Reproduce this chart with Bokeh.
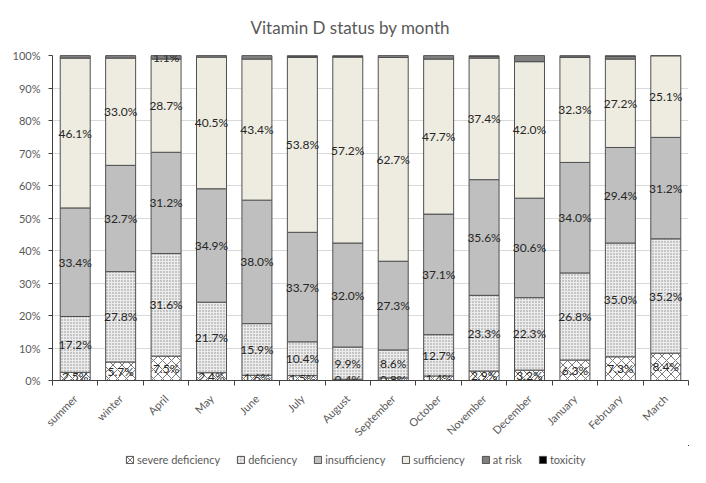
from bokeh.plotting import figure
from bokeh.layouts import column
from bokeh.models import (ColumnDataSource, FixedTicker, NumeralTickFormatter,
                          Legend, LegendItem, Range1d)
from bokeh.embed import file_html
from bokeh.resources import INLINE
from bokeh.core.properties import value
from math import pi

# ---- data (percent of samples) ----
months = ["summer", "winter", "April", "May", "June", "July", "August",
          "September", "October", "November", "December", "January",
          "February", "March"]
severe_deficiency = [2.5, 5.7, 7.5, 2.4, 1.6, 1.5, 0.4, 0.8, 1.4, 2.9, 3.2, 6.3, 7.3, 8.4]
deficiency = [17.2, 27.8, 31.6, 21.7, 15.9, 10.4, 9.9, 8.6, 12.7, 23.3, 22.3, 26.8, 35.0, 35.2]
insufficiency = [33.4, 32.7, 31.2, 34.9, 38.0, 33.7, 32.0, 27.3, 37.1, 35.6, 30.6, 34.0, 29.4, 31.2]
sufficiency = [46.1, 33.0, 28.7, 40.5, 43.4, 53.8, 57.2, 62.7, 47.7, 37.4, 42.0, 32.3, 27.2, 25.1]
at_risk = [0.8, 0.8, 1.1, 0.5, 1.1, 0.4, 0.3, 0.6, 1.1, 0.6, 1.9, 0.5, 0.9, 0.1]
toxicity = [0.0, 0.0, 0.0, 0.0, 0.0, 0.2, 0.2, 0.0, 0.0, 0.2, 0.0, 0.1, 0.2, 0.0]
at_risk_labelled = [False, False, True, False, False, False, False,
                    False, False, False, False, False, False, False]
y_ticks = [0, 10, 20, 30, 40, 50, 60, 70, 80, 90, 100]

series = [
    ("severe deficiency", severe_deficiency),
    ("deficiency", deficiency),
    ("insufficiency", insufficiency),
    ("sufficiency", sufficiency),
    ("at risk", at_risk),
    ("toxicity", toxicity),
]

styles = [
    dict(fill_color="white", hatch_pattern="diagonal_cross", hatch_color="#404040",
         hatch_scale=9, hatch_weight=0.7),
    dict(fill_color="#ececec", hatch_pattern="dot", hatch_color="#8a8a8a",
         hatch_scale=3, hatch_weight=0.5),
    dict(fill_color="#bfbfbf"),
    dict(fill_color="#eeece1"),
    dict(fill_color="#7f7f7f"),
    dict(fill_color="#000000"),
]

n = len(months)
xs = list(range(1, n + 1))
totals = [sum(s[1][i] for s in series) for i in range(n)]

data = {"x": xs}
cum = [0.0] * n
for k, (name, vals) in enumerate(series):
    bottom = [cum[i] / totals[i] for i in range(n)]
    top = [(cum[i] + vals[i]) / totals[i] for i in range(n)]
    data[f"b{k}"] = bottom
    data[f"t{k}"] = top
    data[f"m{k}"] = [(bottom[i] + top[i]) / 2 for i in range(n)]
    data[f"l{k}"] = [f"{v:.1f}%" for v in vals]
    cum = [cum[i] + vals[i] for i in range(n)]
src = ColumnDataSource(data)

FONT = "Lato"
p = figure(width=690, height=445, x_range=Range1d(0.5, n + 0.5), y_range=Range1d(0, 1),
           output_backend="svg", toolbar_location=None,
           min_border_left=52, min_border_right=2, min_border_top=54,
           min_border_bottom=4, title="Vitamin D status by month")
p.outline_line_color = None
p.background_fill_color = "white"
p.border_fill_color = "white"

p.title.align = "left"
p.title.offset = 198
p.title.vertical_align = "top"
p.title.standoff = 32
p.title.text_font = FONT
p.title.text_font_size = "17px"
p.title.text_font_style = "normal"
p.title.text_color = "#595959"

for k, (name, vals) in enumerate(series):
    p.vbar(x="x", bottom=f"b{k}", top=f"t{k}", width=0.66, source=src,
           line_color="#505050", line_width=1, **styles[k])

for k in range(4):
    p.text(x="x", y=f"m{k}", text=f"l{k}", source=src, text_align="center",
           text_baseline="middle", text_font=value(FONT), text_font_size="12px",
           text_color="#262626")

ar_src = ColumnDataSource({
    "x": [xs[i] for i in range(n) if at_risk_labelled[i]],
    "y": [data["m4"][i] for i in range(n) if at_risk_labelled[i]],
    "t": [data["l4"][i] for i in range(n) if at_risk_labelled[i]],
})
p.text(x="x", y="y", text="t", source=ar_src, text_align="center",
       text_baseline="middle", text_font=value(FONT), text_font_size="12px",
       text_color="#262626")

# axes
p.xgrid.visible = False
p.ygrid.grid_line_color = "#d9d9d9"
p.yaxis.ticker = FixedTicker(ticks=[t / 100 for t in y_ticks])
p.yaxis.formatter = NumeralTickFormatter(format="0%")
p.yaxis.major_tick_in = 0
p.yaxis.major_tick_out = 4
p.yaxis.minor_tick_line_color = None
p.yaxis.axis_line_color = "#404040"
p.yaxis.major_tick_line_color = "#404040"
p.yaxis.major_label_text_font = FONT
p.yaxis.major_label_text_font_size = "11px"
p.yaxis.major_label_text_color = "#595959"
p.yaxis.major_label_standoff = 8

p.xaxis.ticker = FixedTicker(ticks=xs, minor_ticks=[i + 0.5 for i in range(n + 1)])
p.xaxis.major_label_overrides = {xs[i]: months[i] for i in range(n)}
p.xaxis.major_tick_in = 0
p.xaxis.major_tick_out = 0
p.xaxis.minor_tick_in = 0
p.xaxis.minor_tick_out = 5
p.xaxis.minor_tick_line_color = "#404040"
p.xaxis.axis_line_color = "#404040"
p.xaxis.major_label_orientation = pi / 4
p.xaxis.major_label_text_font = FONT
p.xaxis.major_label_text_font_size = "11px"
p.xaxis.major_label_text_color = "#595959"
p.xaxis.major_label_standoff = 11

# ---- legend strip (same series, drawn outside its visible range) ----
lf = figure(width=690, height=22, x_range=Range1d(-3, -2), y_range=Range1d(-3, -2),
            output_backend="svg", toolbar_location=None, min_border=0)
lf.axis.visible = False
lf.grid.visible = False
lf.outline_line_color = None
items = []
for k, (name, vals) in enumerate(series):
    r = lf.vbar(x="x", bottom=f"b{k}", top=f"t{k}", width=0.66, source=src,
                line_color="#505050", line_width=1, **styles[k])
    items.append(LegendItem(label=name, renderers=[r]))
legend = Legend(items=items, orientation="horizontal", location=(73, 1),
                label_text_font=FONT, label_text_font_size="11px",
                label_text_color="#595959", glyph_width=9, glyph_height=9,
                spacing=16, label_standoff=3, border_line_color=None,
                background_fill_alpha=0, padding=2, margin=0)
lf.add_layout(legend, "center")

layout = column(p, lf, spacing=0)
open("out.html", "w").write(file_html(layout, INLINE))
